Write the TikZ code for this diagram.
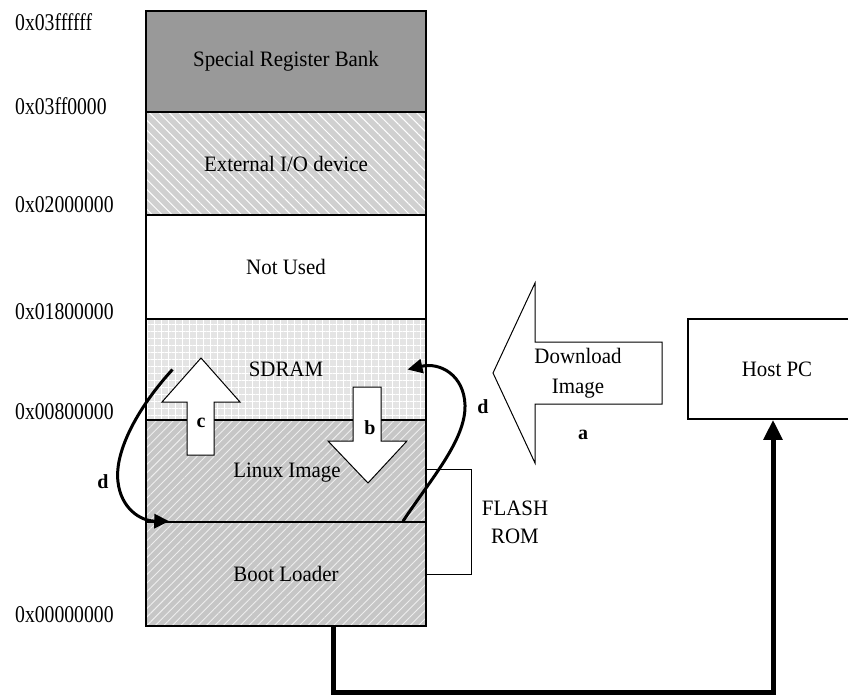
\documentclass[tikz,border=0pt]{standalone}
\usepackage{fontspec}
\setmainfont{Liberation Serif}
\newfontfamily\addrfont[FakeStretch=0.82]{Liberation Serif}
\newfontfamily\lblfont[FakeStretch=0.95]{Liberation Serif}
\usetikzlibrary{patterns.meta,arrows.meta,calc}
\definecolor{srbgray}{HTML}{999999}
\definecolor{extgray}{HTML}{D0D0D0}
\definecolor{sdgray}{HTML}{E4E4E4}
\definecolor{lingray}{HTML}{C6C6C6}
\definecolor{hatchw}{HTML}{EEEEEE}
\tikzset{
  mem/.style={draw=black, line width=1.5pt, minimum width=280pt, inner sep=0pt,
    font=\lblfont\fontsize{22}{26}\selectfont},
  addr/.style={anchor=west, inner sep=0pt, font=\addrfont\fontsize{24}{28}\selectfont},
  txt/.style={inner sep=0pt, align=center, font=\lblfont\fontsize{22}{30}\selectfont},
  letter/.style={inner sep=0pt, font=\bfseries\fontsize{20}{24}\selectfont},
  blk/.style={draw=black, fill=white, line width=1pt, line join=miter},
  curv/.style={line width=3pt, -{Triangle[width=14pt,length=15pt]}},
  conn/.style={line width=5pt, -{Triangle[width=18pt,length=20pt]}},
}
\begin{document}
\begin{tikzpicture}[x=1pt,y=-1pt]
\useasboundingbox (0,0) rectangle (848,696);
% memory column
\node[mem, minimum height=101pt, fill=srbgray] (srb) at (286,61.5) {Special Register Bank};
\node[mem, minimum height=103pt, preaction={fill=extgray},
  pattern={Lines[angle=-45,distance=7pt,line width=1pt]}, pattern color=white] (ext) at (286,163.5) {External I/O device};
\node[mem, minimum height=104pt, fill=white] (nu) at (286,267) {Not Used};
\node[mem, minimum height=101pt, preaction={fill=sdgray},
  pattern={Hatch[distance=7pt,angle=0,line width=1pt]}, pattern color=white] (sdram) at (286,369.5) {SDRAM};
\node[mem, minimum height=102pt, preaction={fill=lingray},
  pattern={Lines[angle=45,distance=6pt,line width=0.9pt]}, pattern color=hatchw] (linux) at (286,471) {};
\node[txt] (linuxtxt) at (287,473) {Linux Image};
\node[mem, minimum height=104pt, preaction={fill=lingray},
  pattern={Lines[angle=45,distance=6pt,line width=0.9pt]}, pattern color=hatchw] (boot) at (286,574) {Boot Loader};
% addresses
\node[addr] (a1) at (15,22) {0x03ffffff};
\node[addr] (a2) at (15,106) {0x03ff0000};
\node[addr] (a3) at (15,205) {0x02000000};
\node[addr] (a4) at (15,312) {0x01800000};
\node[addr] (a5) at (15,412) {0x00800000};
\node[addr] (a6) at (15,615) {0x00000000};
% block arrow c (up)
\draw[blk] (187,455) -- (187,402) -- (162,402) -- (201,358) -- (240,402) -- (214,402) -- (214,455) -- cycle;
\node[letter] (lc) at (201,423) {c};
% block arrow b (down)
\draw[blk] (353,387) -- (381,387) -- (381,441) -- (407,441) -- (368,483) -- (328,441) -- (353,441) -- cycle;
\node[letter] (lb) at (370,428) {b};
% download arrow
\draw[blk] (493,373) -- (535,283) -- (535,342) -- (662,342) -- (662,404) -- (535,404) -- (535,463) -- cycle;
\node[txt] (dl) at (578,373) {Download\\Image};
\node[letter] (la) at (583,435) {a};
% host PC
\node[draw, line width=1.5pt, minimum width=178pt, minimum height=100pt, txt] (host) at (777,369) {Host PC};
% FLASH ROM bracket
\draw[line width=1pt] ([yshift=2pt]linux.east) -- ++(45,0) |- (boot.east);
\node[txt, font=\lblfont\fontsize{22}{28}\selectfont] (flash) at (515,522) {FLASH\\ROM};
% d curves
\coordinate (ls) at ([xshift=27pt]sdram.west);
\coordinate (le) at ([xshift=24pt]boot.north west);
\draw[curv] (ls) .. controls (140,405) and (114,450) .. (118,482) .. controls (121,508) and (140,521) .. (le);
\node[letter] (ld1) at (103,482) {d};
\coordinate (rs) at ([xshift=117pt]boot.north);
\coordinate (re) at ([xshift=-19pt]sdram.east);
\draw[curv] (rs) .. controls (430,480) and (466,440) .. (465,405) .. controls (464,375) and (440,362) .. (re);
\node[letter] (ld2) at (483,407) {d};
% connector boot -> host
\coordinate (bend) at (773,692);
\draw[conn] ([xshift=47pt]boot.south) |- (bend) -- ([xshift=-4pt]host.south);
\end{tikzpicture}
\end{document}
